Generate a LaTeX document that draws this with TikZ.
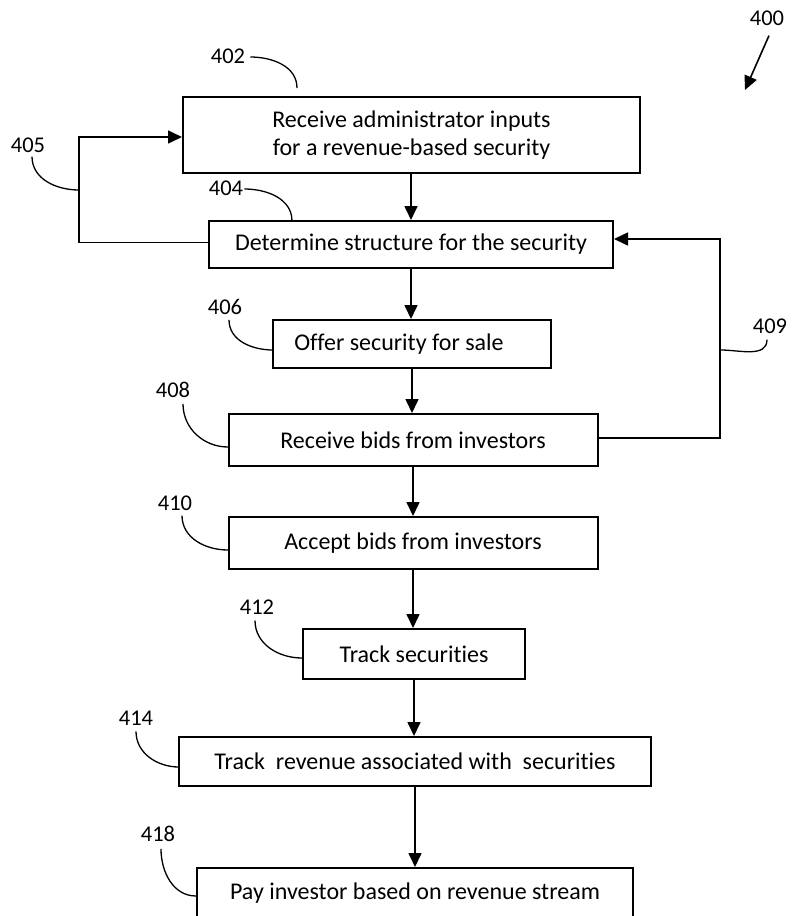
\documentclass[tikz,border=0pt]{standalone}
\usepackage{fontspec}
\setmainfont[Ligatures={NoCommon}]{Carlito}
\usetikzlibrary{arrows.meta}
\begin{document}
\begin{tikzpicture}[x=1pt,y=-1pt,
  box/.style={draw,line width=2pt,inner sep=0pt,font=\fontsize{24}{28.5}\selectfont,align=center},
  arr/.style={line width=1.6pt,-{Triangle[length=14pt,width=13pt]}},
  lead/.style={line width=1.3pt},
  lbl/.style={font=\fontsize{22.5}{26}\selectfont,inner sep=0pt}]
\useasboundingbox (0,0) rectangle (793,916);
% boxes
\node[box,minimum width=457pt,minimum height=76pt] (b402) at (411.5,135) {Receive administrator inputs\\for a revenue-based security};
\node[box,minimum width=404pt,minimum height=47pt] (b404) at (411,244.5) {Determine structure for the security};
\node[box,minimum width=278pt,minimum height=48pt] (b406) at (412,344) {Offer security for sale\hspace*{26pt}};
\node[box,minimum width=369pt,minimum height=52pt] (b408) at (413,440) {Receive bids from investors};
\node[box,minimum width=369pt,minimum height=52pt] (b410) at (413,543) {Accept bids from investors};
\node[box,minimum width=222pt,minimum height=50pt] (b412) at (414,654) {Track securities};
\node[box,minimum width=472pt,minimum height=49pt] (b414) at (415,761.5) {Track\ \ revenue associated with\ \ securities};
\node[box,minimum width=436pt,minimum height=50pt] (b418) at (415,893) {Pay investor based on revenue stream};
% main flow
\draw[arr] (b402.south -| b404) -- (b404.north);
\draw[arr] (b404.south) -- (b404.south |- b406.north);
\draw[arr] (b406.south) -- (b406.south |- b408.north);
\draw[arr] (b408.south) -- (b410.north);
\draw[arr] (b410.south) -- (b410.south |- b412.north);
\draw[arr] (b412.south) -- (b412.south |- b414.north);
\draw[arr] (b414.south) -- (b418.north);
% feedback loops
\coordinate (c405) at (79,0);
\coordinate (c409) at (720,0);
\coordinate (s405) at ([yshift=2pt]b404.west);
\coordinate (e405) at ([yshift=-2pt]b402.west);
\coordinate (s409) at ([yshift=2pt]b408.east);
\coordinate (e409) at ([yshift=5.5pt]b404.east);
\draw[arr] (s405) -- (s405 -| c405) |- (e405);
\draw[arr] (s409) -- (s409 -| c409) |- (e409);
% labels
\node[lbl] (l402) at (228,56) {402};
\node[lbl] (l404) at (226,188) {404};
\node[lbl] (l405) at (28,145) {405};
\node[lbl] (l406) at (225,307) {406};
\node[lbl] (l408) at (173,390) {408};
\node[lbl] (l409) at (770,326) {409};
\node[lbl] (l410) at (175,503) {410};
\node[lbl] (l412) at (257,607) {412};
\node[lbl] (l414) at (136,718) {414};
\node[lbl] (l418) at (158,834) {418};
\node[lbl] (l400) at (767,18) {400};
% leaders
\draw[lead] (l402.east) ++(5,1) to[out=0,in=90] (297,88);
\draw[lead] (l404.east) ++(1,1) to[out=0,in=90] (292,221);
\draw[lead] (l405.south) ++(4,4) to[out=-90,in=180] (79,190);
\draw[lead] (l406.south) ++(4,5) to[out=-90,in=180] (273,350);
\draw[lead] (l408.south) ++(10,6) to[out=-90,in=180] (228,447);
\draw[lead] (l409.south) ++(-3,6) to[out=-90,in=0] (721,350);
\draw[lead] (l410.south) ++(7,5) to[out=-90,in=180] (228,550);
\draw[lead] (l412.south) ++(-2,6) to[out=-90,in=180] (302,658);
\draw[lead] (l414.south) ++(0,6) to[out=-90,in=180] (179,767);
\draw[lead] (l418.south) ++(3,7) to[out=-90,in=180] (196,896);
\coordinate (t400) at (745,90);
\draw[arr] (l400.south) ++(2,10) -- (t400);
\end{tikzpicture}
\end{document}
